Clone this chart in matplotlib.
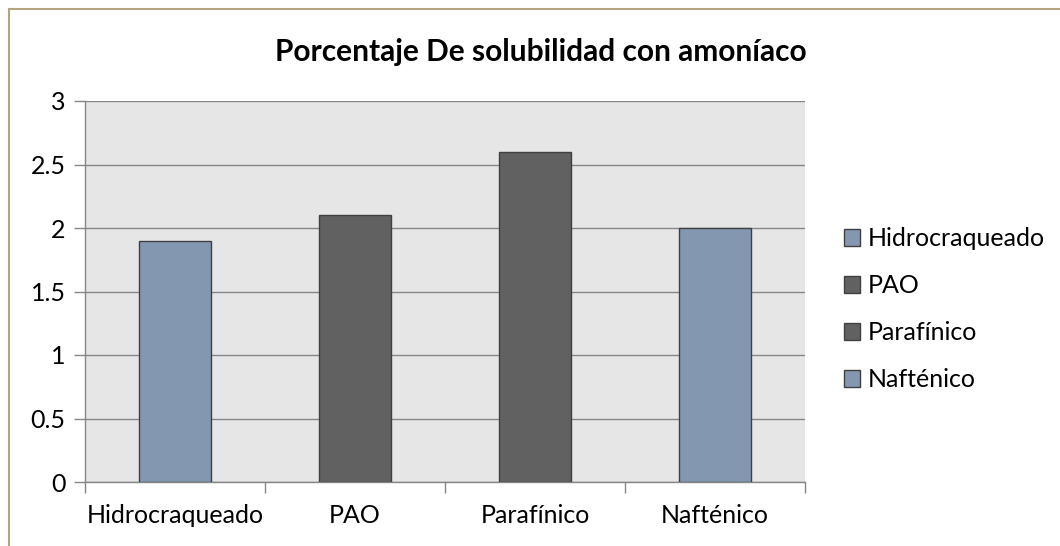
import matplotlib.pyplot as plt
import numpy as np
from matplotlib.lines import Line2D
from matplotlib.patches import Patch

# Data
categories = ['Hidrocraqueado', 'PAO', 'Parafínico', 'Nafténico']
values = [1.9, 2.1, 2.6, 2.0]
bar_colors = ['#8497B0', '#616161', '#616161', '#8497B0']
yticks = [0, 0.5, 1, 1.5, 2, 2.5, 3]
ytick_labels = ['0', '0.5', '1', '1.5', '2', '2.5', '3']

plt.rcParams['font.family'] = ['Lato', 'DejaVu Sans']

fig = plt.figure(figsize=(10.6, 5.46), dpi=100)
W, H = 1060, 546
ax = fig.add_axes([85 / W, 1 - 482 / H, 720 / W, 381 / H])

x = np.arange(len(categories))
ax.bar(x, values, width=0.405, color=bar_colors, edgecolor='#404040', linewidth=1.0, zorder=3)

ax.set_facecolor('#E6E6E6')
ax.set_xlim(-0.5, len(categories) - 0.5)
ax.set_ylim(0, 3)
ax.set_yticks(yticks)
ax.set_yticklabels(ytick_labels)
ax.yaxis.grid(True, color='#868686', linewidth=1.0, zorder=1)

ax.set_xticks(x)
ax.set_xticklabels(categories)
ax.set_xticks(np.arange(len(categories) + 1) - 0.5, minor=True)
ax.tick_params(axis='x', which='major', length=0, pad=16, labelsize=18)
ax.tick_params(axis='x', which='minor', length=8, color='#868686', width=1.0)
ax.tick_params(axis='y', length=8, color='#868686', width=1.0, pad=6, labelsize=18)

for side in ['top', 'right']:
    ax.spines[side].set_visible(False)
for side in ['left', 'bottom']:
    ax.spines[side].set_color('#868686')
    ax.spines[side].set_linewidth(1.0)

fig.text(541 / W, 1 - 52 / H, 'Porcentaje De solubilidad con amoníaco',
         ha='center', va='center', fontsize=21.5, fontweight='bold')

handles = [Patch(facecolor=c, edgecolor='#404040', linewidth=1.0) for c in bar_colors]
fig.legend(handles, categories, loc='center left', bbox_to_anchor=(844 / W, 1 - 309 / H),
           frameon=False, fontsize=18, handlelength=0.65, handleheight=0.65,
           handletextpad=0.3, labelspacing=0.96, borderaxespad=0, borderpad=0)

# outer chart border (left and top visible)
fig.add_artist(Line2D([9 / W, 9 / W], [0, 1 - 9 / H], color='#B3A580', linewidth=1.5))
fig.add_artist(Line2D([9 / W, 1], [1 - 9 / H, 1 - 9 / H], color='#B3A580', linewidth=1.5))

fig.savefig('out.png', dpi=100)
